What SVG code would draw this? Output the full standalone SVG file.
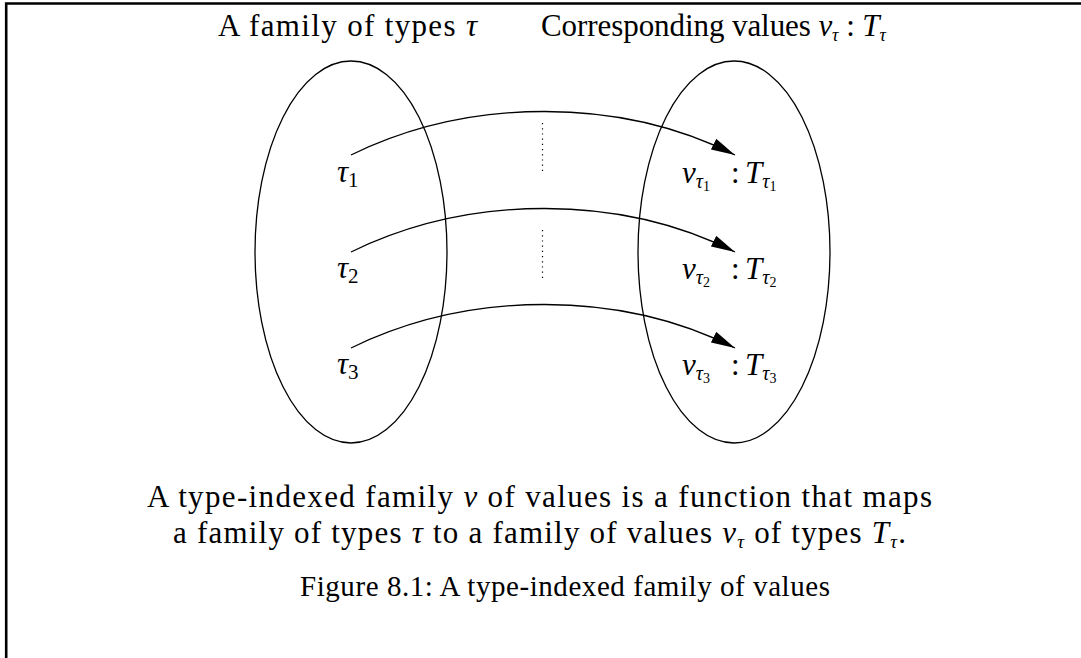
<svg xmlns="http://www.w3.org/2000/svg" width="1081" height="658" viewBox="0 0 1081 658">
<style>
.t{font-family:"Liberation Serif","DejaVu Serif",serif;fill:#000}
.mi{font-style:italic}
.frame{stroke:#000;stroke-width:2.6;fill:none}
.ell{stroke:#000;stroke-width:1.3;fill:none}
.arr{stroke:#000;stroke-width:1.3;fill:none;marker-end:url(#ah)}
.dot{stroke:#000;stroke-width:1.2;stroke-dasharray:1.2 4;fill:none}
</style>
<defs>
<marker id="ah" viewBox="0 0 24 12" refX="24" refY="6" markerWidth="24" markerHeight="12" markerUnits="userSpaceOnUse" orient="auto">
<path d="M0,0 L24,6 L0,12 Z" fill="#000"/>
</marker>
</defs>
<rect width="1081" height="658" fill="#fff"/>
<g id="frame">
<path class="frame" d="M6.2,658 V3.5 H1081"/>
</g>
<g id="titles">
<text class="t" x="218" y="36" font-size="31" textLength="259" lengthAdjust="spacing">A family of types <tspan class="mi">τ</tspan></text>
<text class="t" x="541" y="36" font-size="31" textLength="345" lengthAdjust="spacing">Corresponding values <tspan class="mi">v</tspan><tspan class="mi" font-size="18" dy="5">τ</tspan><tspan dy="-5"> : </tspan><tspan class="mi">T</tspan><tspan class="mi" font-size="18" dy="5">τ</tspan></text>
</g>
<g id="types-set">
<ellipse class="ell" cx="351" cy="252" rx="96" ry="191"/>
</g>
<g id="values-set">
<ellipse class="ell" cx="734" cy="252" rx="96" ry="191"/>
</g>
<g id="tau1"><text class="t" x="337" y="182" font-size="31"><tspan class="mi">τ</tspan><tspan font-size="21" dy="5">1</tspan></text></g>
<g id="tau2"><text class="t" x="337" y="278" font-size="31"><tspan class="mi">τ</tspan><tspan font-size="21" dy="5">2</tspan></text></g>
<g id="tau3"><text class="t" x="337" y="374" font-size="31"><tspan class="mi">τ</tspan><tspan font-size="21" dy="5">3</tspan></text></g>
<g id="val1"><text class="t" x="682" y="183" font-size="31"><tspan class="mi">v</tspan><tspan class="mi" font-size="20" dy="5">τ</tspan><tspan font-size="14" dy="3">1</tspan><tspan x="731" y="183">:</tspan><tspan class="mi" x="745">T</tspan><tspan class="mi" font-size="20" dy="5">τ</tspan><tspan font-size="14" dy="3">1</tspan></text></g>
<g id="val2"><text class="t" x="682" y="279" font-size="31"><tspan class="mi">v</tspan><tspan class="mi" font-size="20" dy="5">τ</tspan><tspan font-size="14" dy="3">2</tspan><tspan x="731" y="279">:</tspan><tspan class="mi" x="745">T</tspan><tspan class="mi" font-size="20" dy="5">τ</tspan><tspan font-size="14" dy="3">2</tspan></text></g>
<g id="val3"><text class="t" x="682" y="375" font-size="31"><tspan class="mi">v</tspan><tspan class="mi" font-size="20" dy="5">τ</tspan><tspan font-size="14" dy="3">3</tspan><tspan x="731" y="375">:</tspan><tspan class="mi" x="745">T</tspan><tspan class="mi" font-size="20" dy="5">τ</tspan><tspan font-size="14" dy="3">3</tspan></text></g>
<g id="connectors">
<path class="arr" d="M351,155 C470,97 620,97 735,155"/>
<path class="arr" d="M351,252 C470,194 620,194 735,252"/>
<path class="arr" d="M351,348 C470,290 620,290 735,348"/>
<path class="dot" d="M542.5,123 V173"/>
<path class="dot" d="M542.5,230 V282"/>
</g>
<g id="caption">
<text class="t" x="147" y="507" font-size="31" textLength="785" lengthAdjust="spacing">A type-indexed family <tspan class="mi">v</tspan> of values is a function that maps</text>
<text class="t" x="173" y="543" font-size="31" textLength="733" lengthAdjust="spacing">a family of types <tspan class="mi">τ</tspan> to a family of values <tspan class="mi">v</tspan><tspan class="mi" font-size="19" dy="5">τ</tspan><tspan dy="-5"> of types </tspan><tspan class="mi">T</tspan><tspan class="mi" font-size="19" dy="5">τ</tspan><tspan dy="-5">.</tspan></text>
<text class="t" x="300" y="596" font-size="29" textLength="530" lengthAdjust="spacing">Figure 8.1: A type-indexed family of values</text>
</g>
</svg>
